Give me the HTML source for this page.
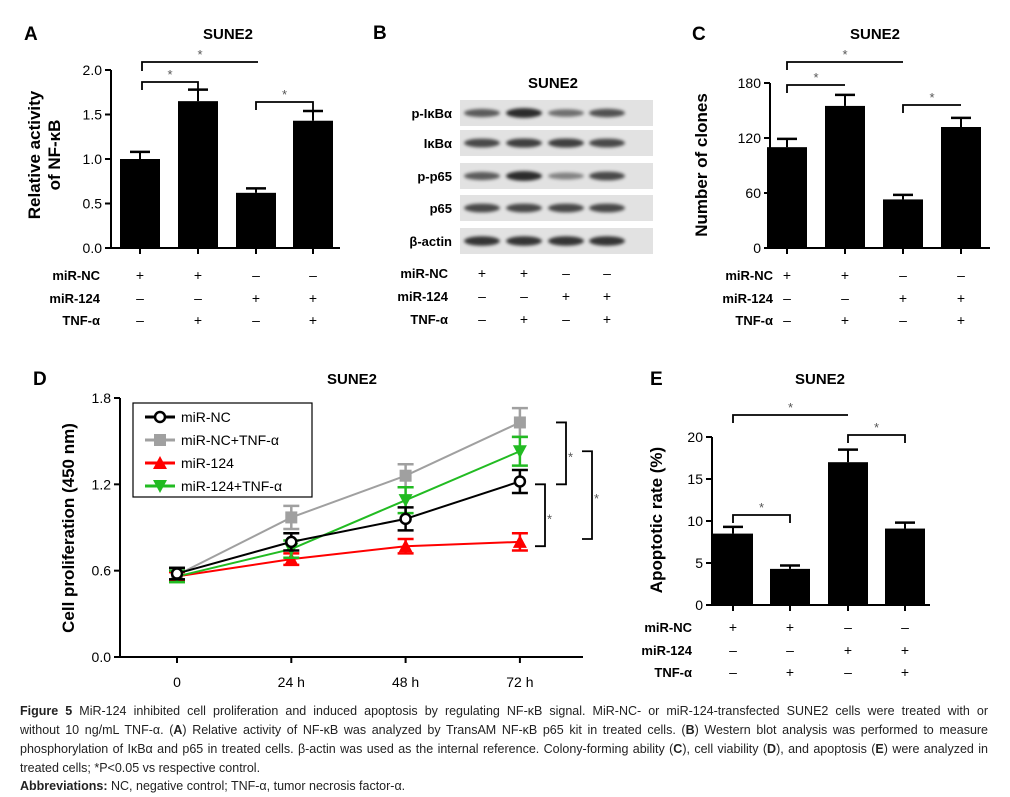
<!DOCTYPE html>
<html><head><meta charset="utf-8">
<style>
body{margin:0;background:#fff;width:1010px;height:797px;overflow:hidden;position:relative;font-family:"Liberation Sans",sans-serif}
svg{position:absolute;left:0;top:0}
.cap{position:absolute;left:20px;width:968px;font-family:"Liberation Sans Narrow","Liberation Sans",sans-serif;font-size:12.5px;color:#222;white-space:nowrap;line-height:19px}
.j{text-align:justify;text-align-last:justify}
</style></head><body>
<svg id="fig" width="1010" height="700" xmlns="http://www.w3.org/2000/svg"></svg>
<div class="cap j" style="top:702px"><b>Figure 5</b> MiR-124 inhibited cell proliferation and induced apoptosis by regulating NF-κB signal. MiR-NC- or miR-124-transfected SUNE2 cells were treated with or</div>
<div class="cap j" style="top:721px">without 10 ng/mL TNF-α. (<b>A</b>) Relative activity of NF-κB was analyzed by TransAM NF-κB p65 kit in treated cells. (<b>B</b>) Western blot analysis was performed to measure</div>
<div class="cap j" style="top:740px">phosphorylation of IκBα and p65 in treated cells. β-actin was used as the internal reference. Colony-forming ability (<b>C</b>), cell viability (<b>D</b>), and apoptosis (<b>E</b>) were analyzed in</div>
<div class="cap" style="top:759px">treated cells; *P&lt;0.05 vs respective control.</div>
<div class="cap" style="top:777px"><b>Abbreviations:</b> NC, negative control; TNF-α, tumor necrosis factor-α.</div>
<script>
// Panel A data
const aValues=[1.0,1.65,0.62,1.43];
const aErrors=[0.08,0.13,0.05,0.11];
const aTicks=[0,0.5,1.0,1.5,2.0];
// Panel C data
const cValues=[110,155,53,132];
const cErrors=[9,12,5,10];
const cTicks=[0,60,120,180];
// Panel E data
const eValues=[8.5,4.3,17.0,9.1];
const eErrors=[0.8,0.4,1.5,0.7];
const eTicks=[0,5,10,15,20];
// Panel D data
const dCategories=["0","24 h","48 h","72 h"];
const dTicks=[0,0.6,1.2,1.8];
const dNC=[0.58,0.80,0.96,1.22];
const dNCerr=[0.04,0.06,0.08,0.08];
const dNCT=[0.57,0.97,1.26,1.63];
const dNCTerr=[0.04,0.08,0.08,0.10];
const d124=[0.56,0.68,0.77,0.80];
const d124err=[0.03,0.04,0.05,0.06];
const d124T=[0.56,0.75,1.09,1.43];
const d124Terr=[0.04,0.06,0.09,0.10];
// Treatment rows
const rowNC=["+","+","–","–"];
const row124=["–","–","+","+"];
const rowTNF=["–","+","–","+"];
// Blot band intensities (0..1)
const blotRows=["p-IκBα","IκBα","p-p65","p65","β-actin"];
const blotInt=[[0.7,0.95,0.6,0.75],[0.8,0.85,0.85,0.8],[0.7,0.95,0.5,0.8],[0.8,0.8,0.8,0.8],[0.9,0.9,0.9,0.9]];

const NS="http://www.w3.org/2000/svg";
const svg=document.getElementById('fig');
function el(tag,attrs,parent){const e=document.createElementNS(NS,tag);for(const k in attrs)e.setAttribute(k,attrs[k]);(parent||svg).appendChild(e);return e;}
function txt(s,x,y,o,parent){const t=el('text',Object.assign({x:x,y:y,'font-family':'Liberation Sans, sans-serif','font-size':14,fill:'#000'},o||{}),parent);t.textContent=s;return t;}

function rows(xs,labelX,ys,g){
  const labs=["miR-NC","miR-124","TNF-α"],data=[rowNC,row124,rowTNF];
  for(let r=0;r<3;r++){
    const l=txt(labs[r],labelX,ys[r],{'font-size':13,'font-weight':'bold','text-anchor':'end'},g);
    
    
    for(let i=0;i<4;i++){const s=txt(data[r][i],xs[i],ys[r],{'font-size':14,'text-anchor':'middle'},g);
      
      }
  }
}
function bracket(x1,x2,y,drop1,drop2,g){
  el('path',{d:`M${x1} ${y+drop1}V${y}H${x2}V${y+drop2}`,stroke:'#000','stroke-width':1.8,fill:'none'},g);
  const s=txt('*',(x1+x2)/2,y-3,{'font-size':13,fill:'#555','text-anchor':'middle'},g);
  
  
}
function barPanel(opt){
  const g=el('g',{});
  
  
  const y=v=>opt.y0-(v-0)/(opt.max)*(opt.y0-opt.yTop);
  el('line',{x1:opt.ax,y1:opt.yTop,x2:opt.ax,y2:opt.y0,stroke:'#000','stroke-width':2},g);
  el('line',{x1:opt.ax,y1:opt.y0,x2:opt.axEnd,y2:opt.y0,stroke:'#000','stroke-width':2},g);
  opt.ticks.forEach(t=>{el('line',{x1:opt.ax-6,x2:opt.ax,y1:y(t),y2:y(t),stroke:'#000','stroke-width':2},g);
    const l=txt(opt.fmt(t),opt.ax-9,y(t)+5,{'font-size':14,'text-anchor':'end'},g);
    
    });
  opt.vals.forEach((v,i)=>{const cx=opt.xs[i];
    el('line',{x1:cx,x2:cx,y1:opt.y0,y2:opt.y0+6,stroke:'#000','stroke-width':2},g);
    el('line',{x1:cx,x2:cx,y1:y(v),y2:y(v+opt.errs[i]),stroke:'#000','stroke-width':2},g);
    el('line',{x1:cx-10,x2:cx+10,y1:y(v+opt.errs[i]),y2:y(v+opt.errs[i]),stroke:'#000','stroke-width':2.5},g);
    const b=el('rect',{x:cx-20,y:y(v),width:40,height:opt.y0-y(v),fill:'#000'},g);
    
    
  });
  const t=txt(opt.ytitle[0],0,0,{'font-size':17,'font-weight':'bold','text-anchor':'middle',transform:`translate(${opt.ytx},${opt.yty}) rotate(-90)`},g);
  
  
  if(opt.ytitle[1]){const t2=txt(opt.ytitle[1],0,0,{'font-size':17,'font-weight':'bold','text-anchor':'middle',transform:`translate(${opt.ytx+20},${opt.yty}) rotate(-90)`},g);
    
    }
  const ti=txt('SUNE2',opt.titleX,opt.titleY,{'font-size':15,'font-weight':'bold','text-anchor':'middle'},g);
  
  
  const le=txt(opt.letter,opt.letterX,opt.titleY+1,{'font-size':19,'font-weight':'bold'},g);
  
  
  rows(opt.xs,opt.rowLabelX,opt.rowYs,g);
  return {g,y};
}
// Panel A
const A=barPanel({name:'panel-a',ax:111,axEnd:340,yTop:70,y0:248,max:2,ticks:aTicks,fmt:t=>t.toFixed(1),vals:aValues,errs:aErrors,xs:[140,198,256,313],
  ytitle:['Relative activity','of NF-κB'],ytx:40,yty:155,titleX:228,titleY:39,letter:'A',letterX:24,rowLabelX:100,rowYs:[280,303,325]});
bracket(142,258,62,9,0,A.g);bracket(142,198,82,8,8,A.g);bracket(256,313,102,8,8,A.g);
// Panel C
const C=barPanel({name:'panel-c',ax:770,axEnd:990,yTop:83,y0:248,max:180,ticks:cTicks,fmt:t=>String(t),vals:cValues,errs:cErrors,xs:[787,845,903,961],
  ytitle:['Number of clones'],ytx:707,yty:165,titleX:875,titleY:39,letter:'C',letterX:692,rowLabelX:773,rowYs:[280,303,325]});
bracket(787,903,62,8,0,C.g);bracket(787,845,85,8,0,C.g);bracket(903,961,105,8,0,C.g);
// Panel E
const E=barPanel({name:'panel-e',ax:712,axEnd:930,yTop:437,y0:605,max:20,ticks:eTicks,fmt:t=>String(t),vals:eValues,errs:eErrors,xs:[733,790,848,905],
  ytitle:['Apoptotic rate (%)'],ytx:662,yty:520,titleX:820,titleY:384,letter:'E',letterX:650,rowLabelX:692,rowYs:[632,655,677]});
bracket(733,848,415,8,0,E.g);bracket(848,905,435,8,8,E.g);bracket(733,790,515,8,8,E.g);

// Panel B blot
(function(){
  const g=el('g',{});
  
  
  const f=el('filter',{id:'blur',x:'-20%',y:'-50%',width:'140%',height:'200%'},el('defs',{},g));
  el('feGaussianBlur',{stdDeviation:1.6},f);
  const lanes=[482,524,566,607],rowY=[113,143,176,208,241];
  const lb=txt('B',373,39,{'font-size':19,'font-weight':'bold'},g);
  
  
  const tt=txt('SUNE2',553,88,{'font-size':15,'font-weight':'bold','text-anchor':'middle'},g);
  
  
  blotRows.forEach((r,i)=>{
    el('rect',{x:460,y:rowY[i]-13,width:193,height:26,fill:'#e2e2e2'},g);
    const l=txt(r,452,rowY[i]+5,{'font-size':13,'font-weight':'bold','text-anchor':'end'},g);
    
    
    lanes.forEach((x,j)=>{const v=blotInt[i][j];
      const b=el('ellipse',{cx:x,cy:rowY[i],rx:18,ry:2+3*v,fill:'#000','fill-opacity':v*0.85,filter:'url(#blur)'},g);
      
      });
  });
  rows(lanes,448,[278,301,324],g);
})();

// Panel D line chart
(function(){
  const g=el('g',{});
  
  
  const ax=120,y0=657,yTop=398,x0=177,dx=114.3;
  const y=v=>y0-v/1.8*(y0-yTop), x=i=>x0+i*dx;
  el('line',{x1:ax,y1:yTop,x2:ax,y2:y0,stroke:'#000','stroke-width':2},g);
  el('line',{x1:ax,y1:y0,x2:583,y2:y0,stroke:'#000','stroke-width':2},g);
  dTicks.forEach(t=>{el('line',{x1:ax-6,x2:ax,y1:y(t),y2:y(t),stroke:'#000','stroke-width':2},g);
    const l=txt(t.toFixed(1),ax-9,y(t)+5,{'font-size':14,'text-anchor':'end'},g);
    
    });
  dCategories.forEach((c,i)=>{el('line',{x1:x(i),x2:x(i),y1:y0,y2:y0+6,stroke:'#000','stroke-width':2},g);
    const l=txt(c,x(i),y0+30,{'font-size':14,'text-anchor':'middle'},g);
    
    });
  const yt=txt('Cell proliferation (450 nm)',0,0,{'font-size':17,'font-weight':'bold','text-anchor':'middle',transform:'translate(74,528) rotate(-90)'},g);
  
  
  const ti=txt('SUNE2',352,384,{'font-size':15,'font-weight':'bold','text-anchor':'middle'},g);
  
  
  const le=txt('D',33,385,{'font-size':19,'font-weight':'bold'},g);
  
  
  function marker(kind,cx,cy,col,p){
    if(kind==='circle')return el('circle',{cx:cx,cy:cy,r:5,fill:'#fff',stroke:col,'stroke-width':2.5},p);
    if(kind==='square')return el('rect',{x:cx-6,y:cy-6,width:12,height:12,fill:col},p);
    if(kind==='up')return el('path',{d:`M${cx} ${cy-7}L${cx+7} ${cy+6}H${cx-7}Z`,fill:col},p);
    return el('path',{d:`M${cx} ${cy+7}L${cx+7} ${cy-6}H${cx-7}Z`,fill:col},p);
  }
  const series=[[dNCT,dNCTerr,'#a0a0a0','square','miR-NC+TNF-α'],[d124,d124err,'#ff0000','up','miR-124'],[d124T,d124Terr,'#22bb22','down','miR-124+TNF-α'],[dNC,dNCerr,'#000','circle','miR-NC']];
  series.forEach(s=>{
    const sg=el('g',{},g);
    
    
    el('polyline',{points:s[0].map((v,i)=>x(i)+','+y(v)).join(' '),fill:'none',stroke:s[2],'stroke-width':2},sg);
    s[0].forEach((v,i)=>{
      const hi=y(v+s[1][i]),lo=y(v-s[1][i]);
      el('line',{x1:x(i),x2:x(i),y1:hi,y2:lo,stroke:s[2],'stroke-width':2.5},sg);
      el('line',{x1:x(i)-8,x2:x(i)+8,y1:hi,y2:hi,stroke:s[2],'stroke-width':2.5},sg);
      el('line',{x1:x(i)-8,x2:x(i)+8,y1:lo,y2:lo,stroke:s[2],'stroke-width':2.5},sg);
      const m=marker(s[3],x(i),y(v),s[2],sg);
      
      
    });
  });
  // legend
  const lg=el('g',{},g);
  
  
  el('rect',{x:133,y:403,width:179,height:94,fill:'#fff',stroke:'#000','stroke-width':1.2},lg);
  const order=[series[3],series[0],series[1],series[2]];
  order.forEach((s,i)=>{const ly=417+i*23;
    el('line',{x1:145,x2:175,y1:ly,y2:ly,stroke:s[2],'stroke-width':3},lg);
    marker(s[3],160,ly,s[2],lg);
    const t=txt(s[4],181,ly+5,{'font-size':14},lg);
    
    });
  // significance brackets
  function vb(xp,v1,v2,sx){
    el('path',{d:`M${xp-10} ${y(v1)}H${xp}V${y(v2)}H${xp-10}`,fill:'none',stroke:'#000','stroke-width':1.8},g);
    const s=txt('*',sx,(y(v1)+y(v2))/2+8,{'font-size':13,fill:'#555'},g);
    
    
  }
  vb(566,1.63,1.2,568);vb(545,1.2,0.77,547);vb(592,1.43,0.82,594);
})();
</script>
</body></html>
